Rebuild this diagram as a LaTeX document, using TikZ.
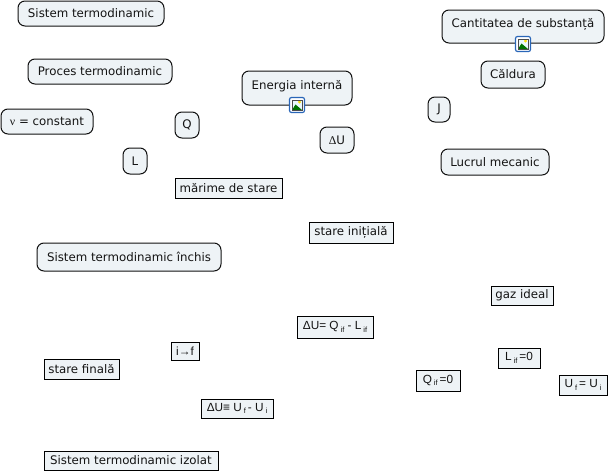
\documentclass[tikz,border=0pt]{standalone}
\usepackage{fontspec}
\setmainfont{DejaVu Sans}
\newfontfamily\lib{Liberation Sans}
\newfontfamily\srf{Liberation Serif}
\definecolor{pale}{HTML}{EEF3F6}
\definecolor{edge}{HTML}{111111}
\definecolor{framing}{HTML}{2A66B8}
\tikzset{
 x=1pt,y=-1pt,
 sized/.style 2 args={minimum width=#1pt,minimum height=#2pt},
 topic/.style={draw=edge,fill=pale,rounded corners=7pt,line width=1pt,inner sep=0pt,font=\fontsize{11.8}{13}\selectfont,text=black!92},
 term/.style={draw=black,fill=pale,sharp corners,line width=1pt,inner sep=0pt,font=\fontsize{11.8}{13}\selectfont,text=black!92},
 formula/.style={term,font=\fontsize{11.8}{13}\selectfont\lib},
 bare/.style={font=\fontsize{11.8}{13}\selectfont,text=black!92,inner sep=0pt},
 icon/.style={draw=framing,fill=white,rounded corners=2pt,line width=1.2pt,minimum size=15pt,inner sep=0pt}
}
\newcommand{\lil}[1]{{\fontsize{7.5}{8}\selectfont\raisebox{-2.5pt}{#1}}}
\newcommand{\imgicon}[2]{%
 \node[icon] (#1) at (#2) {};
 \fill[cyan!8] ([shift={(-5,-5)}]#1.center) rectangle ([shift={(5,5)}]#1.center);
 \fill[green!45!black] ([shift={(-5,5)}]#1.center) -- ([shift={(-1.5,-0.5)}]#1.center) -- ([shift={(5,5)}]#1.center) -- cycle;
 \fill[yellow!80!orange] ([shift={(2.5,-3)}]#1.center) circle (1.7pt);
 \draw[black!70,line width=0.6pt] ([shift={(-5,-5)}]#1.center) rectangle ([shift={(5,5)}]#1.center);
}
\begin{document}
\begin{tikzpicture}
\useasboundingbox (0,0) rectangle (609,471);
\node[topic,sized={146}{25}] (a) at (91,13.5) {Sistem termodinamic};
\node[topic,sized={144}{25}] (b) at (100,71.5) {Proces termodinamic};
\node[topic,sized={92}{25}] (c) at (47,121.5) {{\srf ν} = constant};
\node[topic,sized={24}{26}] (d) at (187,125) {Q};
\node[topic,sized={24}{26}] (e) at (135,161) {L};
\node[topic,sized={110}{34}] (f) at (297,88) {};
\node[bare] (f1) at (297,86) {Energia internă};
\imgicon{fi}{297,105}
\node[topic,sized={34}{26}] (g) at (337,140) {{\srf Δ}U};
\node[topic,sized={162}{33}] (h) at (523,26.5) {};
\node[bare] (h1) at (523,24) {Cantitatea de substanță};
\imgicon{hi}{523,44}
\node[topic,sized={64}{27}] (i) at (513,74.5) {Căldura};
\node[topic,sized={22}{25}] (j) at (439,109.5) {J};
\node[topic,sized={108}{26}] (k) at (495,162) {Lucrul mecanic};
\node[term,sized={107}{20}] (l) at (228.5,188) {mărime de stare};
\node[term,sized={84}{21}] (m) at (351,232.5) {stare inițială};
\node[topic,sized={184}{28}] (n) at (129,257) {Sistem termodinamic închis};
\node[term,sized={62}{19}] (o) at (522,295.5) {gaz ideal};
\node[formula,sized={76}{22}] (p) at (335,327) {ΔU= Q\,\lil{if} - L\,\lil{if}};
\node[formula,sized={28}{18}] (q) at (185,351) {i→f};
\node[term,sized={75}{20}] (r) at (81.5,369) {stare finală};
\node[formula,sized={42}{20}] (s) at (519,358) {L\,\lil{if}\,=0};
\node[formula,sized={44}{21}] (t) at (438,380.5) {Q\,\lil{if}\,=0};
\node[formula,sized={48}{20}] (u) at (583,385) {U\,\lil{f}\,= U\,\lil{i}};
\node[formula,sized={72}{19}] (v) at (237,408.5) {ΔU≡ U\,\lil{f}\,- U\,\lil{i}};
\node[term,sized={174}{19}] (w) at (131,460.5) {Sistem termodinamic izolat};
\end{tikzpicture}
\end{document}
